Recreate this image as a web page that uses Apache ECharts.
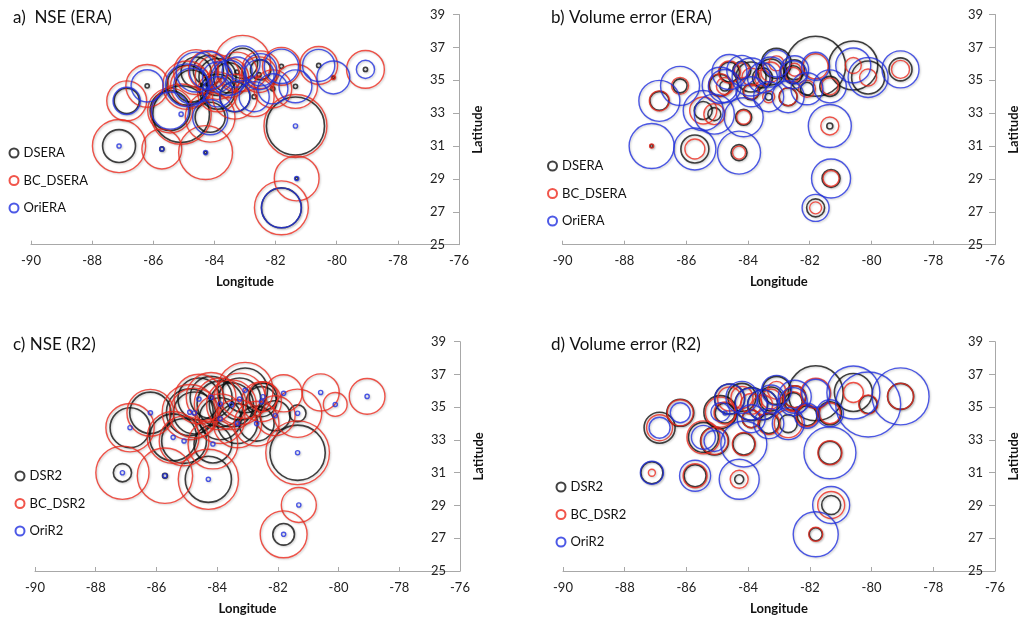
<!DOCTYPE html>
<html>
<head>
<meta charset="utf-8">
<script src="https://cdn.jsdelivr.net/npm/echarts@6/dist/echarts.min.js"></script>
<style>html,body{margin:0;padding:0;background:#fff}#c{width:1021px;height:617px}</style>
</head>
<body>
<div id="c"></div>
<script>
// Station locations
const LON = [-87.12,-85.72,-84.29,-86.87,-86.2,-85.45,-85.09,-84.9,-84.75,-84.14,-83.9,-83.53,-83.26,-83.08,-83.33,-82.7,-82.49,-82.54,-81.81,-82.09,-81.35,-80.59,-80.11,-79.06,-81.35,-81.31,-81.81,-83.9,-84.6,-84.2];
const LAT = [31.0,30.82,30.6,33.75,34.66,33.16,32.94,34.7,34.65,32.75,35.2,35.15,35.5,36.03,34.0,34.0,35.64,35.34,35.85,34.48,34.63,35.9,35.17,35.66,32.22,29.03,27.24,34.3,35.5,35.6];

// a) NSE (ERA)
const NSE_DSERA    = [0.47,0.06,0.04,0.36,0.06,0.57,0.81,0.57,0.46,0.43,0.53,0.43,0.06,0.43,0.43,0.06,0.29,0.06,0.06,0.06,0.06,0.06,0.04,0.06,0.83,0.04,0.57,0.50,0.43,0.43];
const NSE_BC_DSERA = [0.76,0.57,0.77,0.57,0.61,0.64,0.86,0.69,0.60,0.71,0.64,0.57,0.57,0.80,0.64,0.57,0.54,0.51,0.54,0.54,0.63,0.54,0.06,0.54,0.90,0.64,0.77,0.57,0.64,0.57];
const NSE_OriERA   = [0.06,0.06,0.06,0.39,0.46,0.53,0.06,0.61,0.51,0.50,0.43,0.50,0.43,0.50,0.43,0.43,0.46,0.43,0.49,0.43,0.47,0.46,0.47,0.26,0.06,0.06,0.57,0.43,0.57,0.54];

// b) Volume error (ERA), |%|
const VE_DSERA    = [1.2,11.2,6.4,7.6,5.6,7.2,5.2,8.8,4.0,6.4,12.0,8.0,10.4,12.0,2.8,7.2,8.0,7.2,24.0,5.2,8.0,19.6,13.2,9.2,2.4,7.2,7.2,6.4,8.0,7.2];
const VE_BC_DSERA = [1.6,8.0,5.2,8.0,6.8,10.8,8.4,9.2,6.8,5.6,7.2,6.4,8.0,6.0,4.8,7.2,5.2,6.0,10.0,6.8,6.8,6.4,6.8,7.2,7.2,6.4,4.8,6.0,8.8,6.0];
const VE_OriERA   = [18.0,16.8,17.2,16.4,15.6,16.0,16.0,14.4,13.2,15.6,15.2,12.0,12.0,10.8,12.0,12.8,11.2,11.2,11.2,12.8,13.2,14.0,16.0,14.8,17.2,15.6,10.8,12.0,14.0,12.0];

// c) NSE (R2)
const NSE_DSR2    = [0.26,0.07,0.66,0.57,0.59,0.67,0.64,0.67,0.60,0.54,0.66,0.63,0.60,0.64,0.57,0.50,0.39,0.43,0,0.43,0.24,0,0,0,0.79,0,0.31,0.60,0.60,0.60];
const NSE_BC_DSR2 = [0.76,0.79,0.86,0.69,0.67,0.74,0.71,0.79,0.71,0.71,0.74,0.71,0.74,0.80,0.69,0.64,0.43,0.57,0.53,0.57,0.69,0.53,0.34,0.51,0.91,0.50,0.67,0.71,0.71,0.71];
const NSE_OriR2   = [0.06,0.06,0.06,0.06,0.06,0.06,0.06,0.06,0.06,0.06,0.06,0.06,0.06,0.06,0.06,0.06,0.06,0.06,0.06,0.06,0.06,0.06,0.06,0.06,0.06,0.06,0.06,0.06,0.06,0.06];

// d) Volume error (R2), |%|
const VE_DSR2    = [8.8,8.8,3.6,12.4,10.8,12.0,11.2,13.2,8.0,8.8,13.2,12.0,9.6,11.2,8.0,7.2,8.8,7.2,22.0,8.0,9.2,15.2,7.2,10.4,9.2,7.6,5.2,7.2,12.0,11.2];
const VE_BC_DSR2 = [2.8,9.6,7.2,10.4,10.4,13.2,10.8,12.0,8.8,9.2,8.4,8.0,8.0,7.2,8.8,11.2,8.8,8.0,12.0,8.8,8.4,8.0,7.6,10.4,9.6,10.8,5.6,7.2,9.6,8.8];
const VE_OriR2   = [9.2,12.4,16.0,8.4,8.0,9.6,8.4,7.6,1.6,18.4,12.8,12.0,11.2,12.0,12.0,12.8,13.2,11.2,11.2,10.0,10.8,21.2,26.0,22.8,20.8,14.8,18.0,11.2,12.0,12.8];

const X_TICKS = [-90,-88,-86,-84,-82,-80,-78,-76];
const Y_TICKS = [25,27,29,31,33,35,37,39];

const BLACK = '#111111', RED = '#ee2a1e', BLUE = '#2030e0';
const FONT = 'Lato';
const NSE_PX = 70, VE_PX = 2.5;

function ser(name, color, idx, vals, k, bw) {
  return {
    name: name, type: 'scatter', xAxisIndex: idx, yAxisIndex: idx,
    data: LON.map((x, i) => [x, LAT[i], vals[i]]),
    symbol: 'circle',
    symbolSize: d => Math.max(d[2], 0) * k,
    itemStyle: { color: 'rgba(0,0,0,0)', borderColor: color, borderWidth: bw,
      shadowColor: 'rgba(0,0,0,0.25)', shadowBlur: 2, shadowOffsetX: 1, shadowOffsetY: 1 },
    emphasis: { disabled: true },
    silent: true,
    clip: false
  };
}

const grids = [
  { left: 31, right: 562, top: 14.5, height: 230.2 },
  { left: 562.7, right: 21.5, top: 14.5, height: 230.2 },
  { left: 35, right: 561, top: 341.7, height: 229.3 },
  { left: 563, right: 23, top: 341.7, height: 229.3 }
];

function xAx(i) {
  return {
    gridIndex: i, type: 'value', min: X_TICKS[0], max: X_TICKS[X_TICKS.length-1], interval: 2,
    splitLine: { show: false },
    axisLine: { onZero: false, lineStyle: { color: '#a8a8a8', width: 1 } },
    axisTick: { show: true, inside: true, length: 4, lineStyle: { color: '#a8a8a8' } },
    axisLabel: { color: '#222', fontSize: 13, fontFamily: FONT, margin: 10 },
    name: 'Longitude', nameLocation: 'middle', nameGap: 31,
    nameTextStyle: { color: '#111', fontSize: 13, fontWeight: 'bold', fontFamily: FONT }
  };
}
function yAx(i, m) {
  return {
    gridIndex: i, type: 'value', min: Y_TICKS[0], max: Y_TICKS[Y_TICKS.length-1], interval: 2,
    position: 'right',
    splitLine: { show: false },
    axisLine: { show: true, onZero: false, lineStyle: { color: '#a8a8a8', width: 1 } },
    axisTick: { show: true, inside: true, length: 6, lineStyle: { color: '#a8a8a8' } },
    axisLabel: { inside: true, color: '#222', fontSize: 13, fontFamily: FONT, margin: m },
    name: 'Latitude', nameLocation: 'middle', nameRotate: 90, nameGap: 12,
    nameTextStyle: { color: '#111', fontSize: 13, fontWeight: 'bold', fontFamily: FONT }
  };
}
function leg(names, left, top) {
  return {
    data: names, orient: 'vertical', left: left, top: top, padding: 0,
    icon: 'circle', itemWidth: 9, itemHeight: 9, itemGap: 13.5,
    textStyle: { fontSize: 13, lineHeight: 14, fontFamily: FONT, color: '#111' },
    selectedMode: false
  };
}
function ttl(text, left, top) {
  return { text: text, left: left, top: top, padding: 0,
    textStyle: { fontSize: 17, fontWeight: 'normal', fontFamily: FONT, color: '#111' } };
}

const option = {
  animation: false,
  backgroundColor: '#fff',
  title: [
    ttl('a)  NSE (ERA)', 13, 9),
    ttl('b) Volume error (ERA)', 551, 9),
    ttl('c) NSE (R2)', 13, 336),
    ttl('d) Volume error (R2)', 551, 336)
  ],
  legend: [
    leg(['DSERA','BC_DSERA','OriERA'], 8.5, 146),
    leg(['DSERA','BC_DSERA','OriERA'], 547, 159),
    leg(['DSR2','BC_DSR2','OriR2'], 14.5, 469),
    leg(['DSR2','BC_DSR2','OriR2'], 555.5, 480)
  ],
  grid: grids,
  xAxis: [xAx(0), xAx(1), xAx(2), xAx(3)],
  yAxis: [yAx(0, 14), yAx(1, 12), yAx(2, 14), yAx(3, 12)],
  series: [
    ser('DSERA', BLACK, 0, NSE_DSERA, NSE_PX, 1.6),
    ser('BC_DSERA', RED, 0, NSE_BC_DSERA, NSE_PX, 1.4),
    ser('OriERA', BLUE, 0, NSE_OriERA, NSE_PX, 1.4),
    ser('DSERA', BLACK, 1, VE_DSERA, VE_PX, 1.6),
    ser('BC_DSERA', RED, 1, VE_BC_DSERA, VE_PX, 1.4),
    ser('OriERA', BLUE, 1, VE_OriERA, VE_PX, 1.4),
    ser('DSR2', BLACK, 2, NSE_DSR2, NSE_PX, 1.6),
    ser('BC_DSR2', RED, 2, NSE_BC_DSR2, NSE_PX, 1.4),
    ser('OriR2', BLUE, 2, NSE_OriR2, NSE_PX, 1.4),
    ser('DSR2', BLACK, 3, VE_DSR2, VE_PX, 1.6),
    ser('BC_DSR2', RED, 3, VE_BC_DSR2, VE_PX, 1.4),
    ser('OriR2', BLUE, 3, VE_OriR2, VE_PX, 1.4)
  ]
};
const chart = echarts.init(document.getElementById('c'), null, { renderer: 'canvas' });
chart.setOption(option);
</script>
</body>
</html>
